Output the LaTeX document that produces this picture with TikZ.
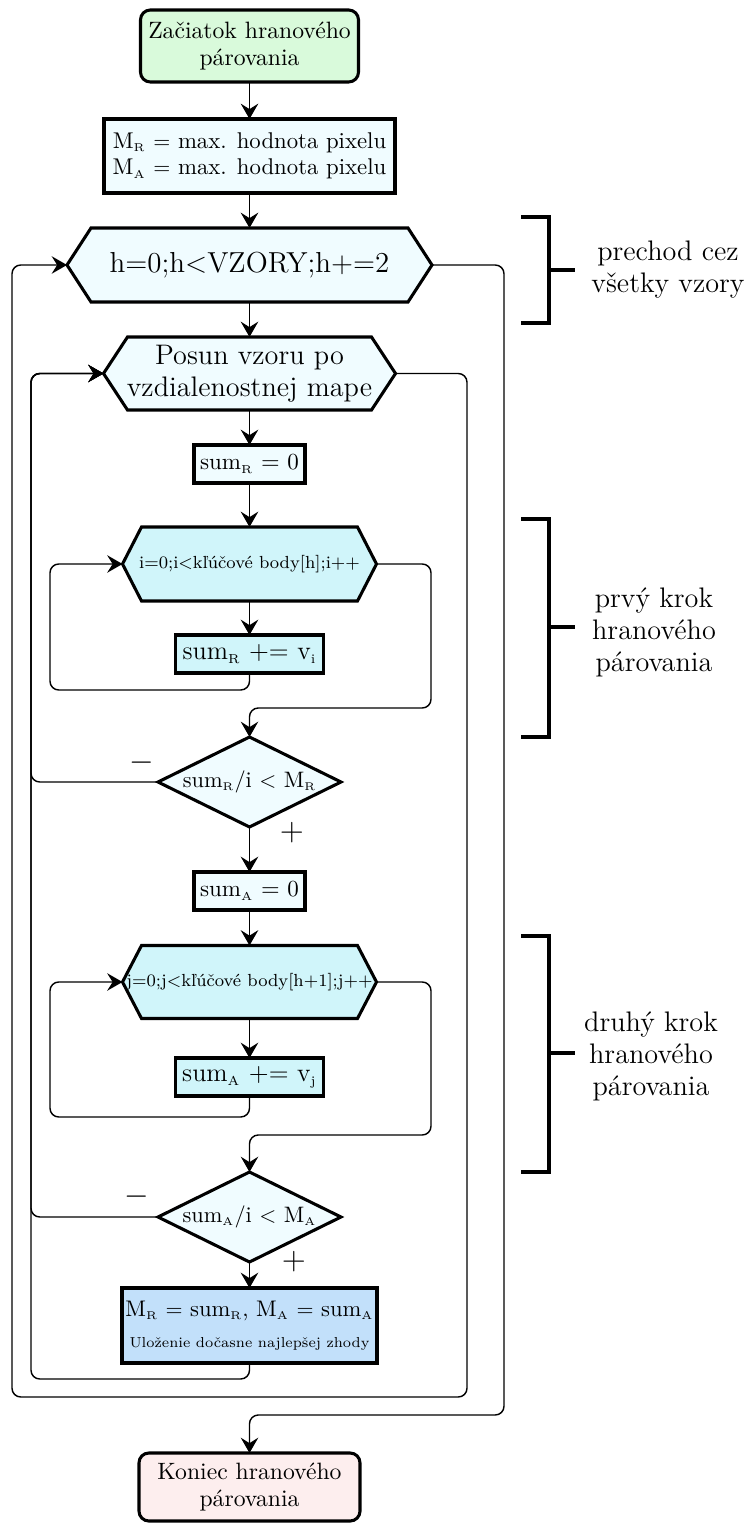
\documentclass[tikz,border=0pt]{standalone}
\usepackage{fontspec}
\usetikzlibrary{arrows.meta,shapes.geometric,backgrounds}
\definecolor{lightfill}{HTML}{F0FCFF}
\definecolor{cyanfill}{HTML}{D0F5FA}
\definecolor{greenfill}{HTML}{D9FADB}
\definecolor{bluefill}{HTML}{C2E0FA}
\definecolor{pinkfill}{HTML}{FDEEEE}
\newcommand\pxu{0.4566pt}
\newcommand\sbs[1]{$_{\scriptscriptstyle\mathrm{#1}}$}
\begin{document}
\begin{tikzpicture}[x=0.4566pt,y=-0.4566pt,
  box/.style={draw, line width=1.4pt, inner sep=1pt, align=center, outer sep=0pt},
  rbox/.style={box, rounded corners=4.5pt},
  hexnode/.style={inner sep=0pt, outer sep=0pt, align=center},
  hexdraw/.style={draw, line width=1.4pt, line join=miter},
  dia/.style={diamond, draw, line width=1.4pt, aspect=2, inner sep=0pt, outer sep=0pt, fill=lightfill},
  arr/.style={line width=0.9pt, -{Stealth[length=7pt,width=8pt,inset=2.5pt]}},
  ln/.style={line width=0.65pt, rounded corners=4pt, -{Stealth[length=7pt,width=8pt,inset=2.5pt]}},
  brk/.style={line width=1.4pt},
  fstart/.style={font=\fontsize{10.8}{12.4}\selectfont},
  finit/.style={font=\fontsize{10.4}{12}\selectfont},
  fhex/.style={font=\fontsize{13.2}{14.8}\selectfont},
  flarge/.style={font=\fontsize{12.9}{14.6}\selectfont},
  fsmall/.style={font=\fontsize{8}{10}\selectfont},
  fzero/.style={font=\fontsize{10.5}{12}\selectfont},
  fadd/.style={font=\fontsize{11.9}{13.5}\selectfont},
  fdia/.style={font=\fontsize{10.2}{12}\selectfont},
  fsign/.style={font=\fontsize{14.4}{16}\selectfont, inner sep=0pt}
]
\useasboundingbox (0,0) rectangle (751,1524);

% nodes
\node[rbox, fstart, fill=greenfill, minimum width=218*\pxu, minimum height=72*\pxu] (start) at (249.5,46) {Začiatok hranového\\párovania};
\node[box, finit, fill=lightfill, minimum width=291*\pxu, minimum height=74*\pxu] (init) at (249.5,156) {M\sbs{R} $=$ max. hodnota pixelu\\M\sbs{A} $=$ max. hodnota pixelu};
\node[hexnode, fhex, minimum width=365*\pxu, minimum height=74*\pxu] (h) at (249.5,265) {h=0;h<VZORY;h+=2};
\node[hexnode, flarge, minimum width=292*\pxu, minimum height=73*\pxu] (p) at (249.5,373.5) {Posun vzoru po\\vzdialenostnej mape};
\node[box, fzero, fill=lightfill, minimum width=111*\pxu, minimum height=38*\pxu] (sR0) at (249.5,464) {sum\sbs{R} $=$ 0};
\node[hexnode, fsmall, minimum width=254*\pxu, minimum height=74*\pxu] (i) at (249.5,564) {i=0;i<kľúčové body[h];i++};
\node[box, fadd, fill=cyanfill, minimum width=148*\pxu, minimum height=38*\pxu] (sRa) at (249.5,654) {sum\sbs{R} += v\sbs{i}};
\node[dia, fdia, minimum width=183*\pxu, minimum height=90*\pxu] (d1) at (249.5,782) {sum\sbs{R}/i $<$ M\sbs{R}};
\node[box, fzero, fill=lightfill, minimum width=111*\pxu, minimum height=38*\pxu] (sA0) at (249.5,891) {sum\sbs{A} $=$ 0};
\node[hexnode, fsmall, minimum width=254*\pxu, minimum height=73*\pxu] (j) at (249.5,982) {j=0;j<kľúčové body[h+1];j++};
\node[box, fadd, fill=cyanfill, minimum width=148*\pxu, minimum height=38*\pxu] (sAa) at (249.5,1077) {sum\sbs{A} += v\sbs{j}};
\node[dia, fdia, minimum width=183*\pxu, minimum height=90*\pxu] (d2) at (249.5,1217) {sum\sbs{A}/i $<$ M\sbs{A}};
\node[box, fill=bluefill, minimum width=255*\pxu, minimum height=75*\pxu] (fin) at (249.5,1325.5) {{\fontsize{10.3}{12.5}\selectfont M\sbs{R} $=$ sum\sbs{R}, M\sbs{A} $=$ sum\sbs{A}}\\[2pt]{\fontsize{6.6}{9}\selectfont Uloženie dočasne najlepšej zhody}};
\node[rbox, fstart, fill=pinkfill, minimum width=221*\pxu, minimum height=68*\pxu] (end) at (249.5,1487) {Koniec hranového\\párovania};

% signs
\node[fsign] (m1) at (142,763) {$-$};
\node[fsign] (p1) at (292,833) {$+$};
\node[fsign] (m2) at (137,1197) {$-$};
\node[fsign] (p2) at (294,1262) {$+$};

% hexagon outlines
\begin{scope}[on background layer]
\draw[hexdraw, fill=lightfill] ([xshift=24*\pxu]h.north west) -- ([xshift=-24*\pxu]h.north east) -- (h.east) -- ([xshift=-24*\pxu]h.south east) -- ([xshift=24*\pxu]h.south west) -- (h.west) -- cycle;
\draw[hexdraw, fill=lightfill] ([xshift=24*\pxu]p.north west) -- ([xshift=-24*\pxu]p.north east) -- (p.east) -- ([xshift=-24*\pxu]p.south east) -- ([xshift=24*\pxu]p.south west) -- (p.west) -- cycle;
\draw[hexdraw, fill=cyanfill] ([xshift=19*\pxu]i.north west) -- ([xshift=-19*\pxu]i.north east) -- (i.east) -- ([xshift=-19*\pxu]i.south east) -- ([xshift=19*\pxu]i.south west) -- (i.west) -- cycle;
\draw[hexdraw, fill=cyanfill] ([xshift=19*\pxu]j.north west) -- ([xshift=-19*\pxu]j.north east) -- (j.east) -- ([xshift=-19*\pxu]j.south east) -- ([xshift=19*\pxu]j.south west) -- (j.west) -- cycle;
\end{scope}

% main arrows
\draw[arr] (start) -- (init);
\draw[arr] (init) -- (h);
\draw[arr] (h) -- (p);
\draw[arr] (p) -- (sR0);
\draw[arr] (sR0) -- (i);
\draw[arr] (i) -- (sRa);
\draw[arr] (d1) -- (sA0);
\draw[arr] (sA0) -- (j);
\draw[arr] (j) -- (sAa);
\draw[arr] (d2) -- (fin);

% loops
\draw[ln] (sRa.south) |- (50,690) |- (i.west);
\draw[ln] (i.east) -| (431,708) -| (d1.north);
\draw[ln] (d1.west) -- (31,782) |- (p.west);
\draw[ln] (sAa.south) |- (50,1117) |- (j.west);
\draw[ln] (j.east) -| (431,1135) -| (d2.north);
\draw[ln] (d2.west) -- (31,1217) |- (p.west);
\draw[ln] (fin.south) |- (31,1379) |- (p.west);
\draw[ln] (p.east) -| (467,1397) -- (12,1397) |- (h.west);
\draw[ln] (h.east) -| (504,1415) -| (end.north);

% brackets
\draw[brk] (521,217) -- (549,217) -- (549,323) -- (521,323);
\draw[brk] (549,270) -- (575,270);
\node[flarge, align=center] (b1) at (668,270) {prechod cez\\všetky vzory};
\draw[brk] (521,519) -- (549,519) -- (549,737) -- (521,737);
\draw[brk] (549,627) -- (575,627);
\node[flarge, align=center] (b2) at (654,632) {prvý krok\\hranového\\párovania};
\draw[brk] (521,936) -- (549,936) -- (549,1172) -- (521,1172);
\draw[brk] (549,1053) -- (575,1053);
\node[flarge, align=center] (b3) at (651,1056) {druhý krok\\hranového\\párovania};
\end{tikzpicture}
\end{document}
